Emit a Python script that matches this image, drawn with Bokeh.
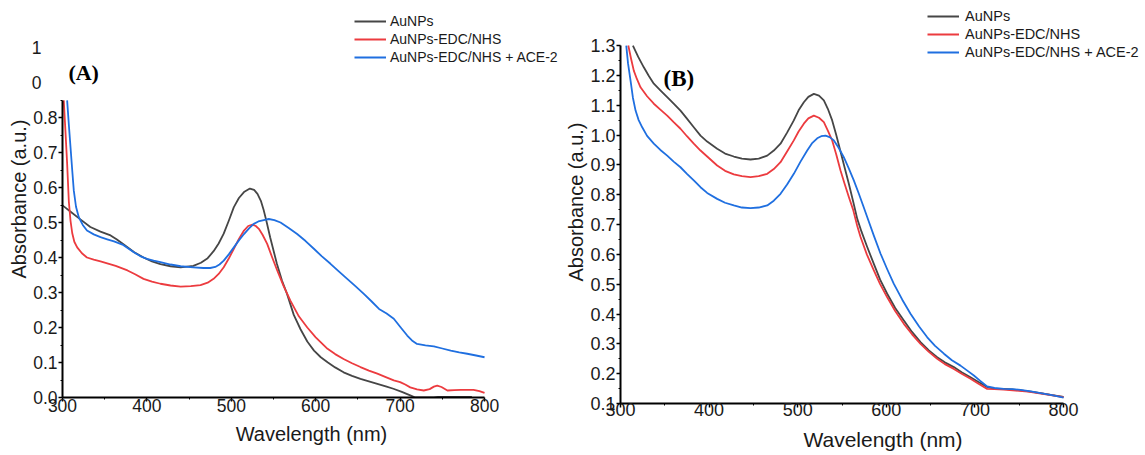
from bokeh.plotting import figure
from bokeh.models import (FixedTicker, NumeralTickFormatter, Legend, LegendItem,
                          Label, Range1d, LinearAxis)
from bokeh.layouts import row
from bokeh.embed import file_html
from bokeh.resources import INLINE

# ---------------- data ----------------
series_names = ["AuNPs", "AuNPs-EDC/NHS", "AuNPs-EDC/NHS + ACE-2"]
series_colors = ["#464646", "#ec3b3f", "#1f6fe0"]
x_ticks = [300, 400, 500, 600, 700, 800]
x_minor = [350, 450, 550, 650, 750]
a_y_ticks = [0.0, 0.1, 0.2, 0.3, 0.4, 0.5, 0.6, 0.7, 0.8]
a_y_minor = [0.05, 0.15, 0.25, 0.35, 0.45, 0.55, 0.65, 0.75, 0.85]
a_y_cut_ticks = [0.9, 1.0]          # partly hidden tick labels above panel A
a_y_cut_labels = ["0", "1"]
b_y_ticks = [0.1, 0.2, 0.3, 0.4, 0.5, 0.6, 0.7, 0.8, 0.9, 1.0, 1.1, 1.2, 1.3]
b_y_minor = [0.15, 0.25, 0.35, 0.45, 0.55, 0.65, 0.75, 0.85, 0.95, 1.05, 1.15, 1.25]

# Panel A
a_aunps_x = [300, 310, 320, 333, 345, 357, 364, 371, 385, 396, 406, 416, 428, 440, 455, 464,
             472, 479, 485, 491, 497, 503, 509, 515, 522, 527, 531, 535, 538.5, 542, 546, 550,
             554, 560, 566, 574, 582, 590, 598, 606, 614, 623, 633, 643, 653, 663, 673, 683,
             692, 702, 712, 718, 740, 745, 785]
a_aunps_y = [0.549, 0.530, 0.511, 0.487, 0.474, 0.463, 0.452, 0.440, 0.415, 0.400, 0.389,
             0.381, 0.375, 0.372, 0.376, 0.385, 0.398, 0.418, 0.440, 0.468, 0.505, 0.544, 0.570,
             0.587, 0.597, 0.593, 0.582, 0.562, 0.534, 0.500, 0.458, 0.420, 0.382, 0.334, 0.296,
             0.236, 0.195, 0.160, 0.134, 0.115, 0.101, 0.086, 0.072, 0.062, 0.053, 0.046, 0.039,
             0.032, 0.025, 0.016, 0.006, 0.000, 0.000, 0.002, 0.002]

a_edc_x = [301.5, 303.5, 305.5, 307.5, 309.5, 311.5, 314, 317.4, 323, 329, 337, 345, 355, 363,
           377, 386, 396, 406, 416, 428, 440, 452, 463.5, 472, 479, 485, 491, 497, 503, 509,
           515, 520, 525, 529, 532.6, 537, 542.5, 548, 554.4, 562, 570, 580, 590, 600, 614,
           623, 633, 643, 653, 663, 673, 683, 692.5, 700, 706, 712, 720, 728, 735, 740, 744,
           749, 756, 764, 772, 780, 787, 794, 800]
a_edc_y = [0.849, 0.760, 0.668, 0.560, 0.505, 0.470, 0.445, 0.429, 0.412, 0.400, 0.394, 0.389,
           0.382, 0.376, 0.363, 0.352, 0.339, 0.331, 0.325, 0.320, 0.317, 0.318, 0.321, 0.328,
           0.339, 0.353, 0.372, 0.397, 0.425, 0.453, 0.477, 0.490, 0.494, 0.490, 0.482, 0.465,
           0.439, 0.403, 0.363, 0.318, 0.277, 0.232, 0.200, 0.172, 0.139, 0.124, 0.110, 0.098,
           0.087, 0.077, 0.068, 0.058, 0.049, 0.044, 0.037, 0.029, 0.023, 0.020, 0.024, 0.031,
           0.034, 0.030, 0.020, 0.021, 0.022, 0.022, 0.022, 0.018, 0.013]

a_ace_x = [305.5, 307.5, 309.5, 311.5, 313.4, 316, 319.3, 324, 329, 337, 345, 353, 361, 371,
           378, 384.5, 392, 400, 408, 416, 428, 440, 455, 467, 475, 481, 486, 491, 497, 503,
           509, 515, 521, 526.6, 532, 538.5, 544.4, 551, 558.3, 568, 578, 588, 597.8, 607,
           617.5, 627, 637.3, 647, 657, 666, 675, 684, 692.5, 700, 708.4, 714, 720, 730, 740,
           750, 760, 770, 779.5, 790, 800]
a_ace_y = [0.849, 0.780, 0.715, 0.650, 0.591, 0.545, 0.515, 0.493, 0.477, 0.466, 0.458, 0.452,
           0.446, 0.437, 0.426, 0.415, 0.404, 0.396, 0.391, 0.387, 0.380, 0.375, 0.372, 0.370,
           0.370, 0.373, 0.380, 0.391, 0.409, 0.429, 0.449, 0.467, 0.483, 0.496, 0.503, 0.507,
           0.510, 0.507, 0.500, 0.484, 0.467, 0.447, 0.425, 0.404, 0.382, 0.361, 0.339, 0.318,
           0.296, 0.275, 0.253, 0.240, 0.225, 0.202, 0.177, 0.163, 0.153, 0.149, 0.146, 0.140,
           0.134, 0.129, 0.125, 0.120, 0.115]

# Panel B
b_aunps_x = [314, 320, 326.3, 332, 337.6, 345, 352.7, 360, 367.7, 375, 382.7, 390.3, 397.8,
             409.1, 418, 427.9, 437, 446.7, 456, 465.6, 473, 480.6, 488, 495.6, 501, 506.9,
             512, 518.2, 524, 529.5, 534, 538.9, 543.5, 548.3, 553, 557.7, 562.5, 567.2, 572,
             578, 585.9, 593, 601, 610, 619.8, 629, 638.6, 648, 657.4, 666, 676.2, 685, 695,
             704, 713.8, 722, 732.6, 742, 751.5, 763, 774, 787, 800]
b_aunps_y = [1.300, 1.262, 1.227, 1.198, 1.172, 1.150, 1.127, 1.105, 1.082, 1.055, 1.026,
             0.998, 0.978, 0.954, 0.938, 0.928, 0.921, 0.918, 0.921, 0.931, 0.948, 0.971,
             1.008, 1.049, 1.083, 1.110, 1.128, 1.138, 1.132, 1.116, 1.088, 1.049, 1.000, 0.945,
             0.890, 0.837, 0.778, 0.719, 0.676, 0.628, 0.568, 0.515, 0.468, 0.420, 0.378, 0.340,
             0.306, 0.278, 0.255, 0.238, 0.222, 0.205, 0.188, 0.172, 0.155, 0.150, 0.149, 0.147,
             0.144, 0.140, 0.135, 0.128, 0.122]

b_edc_x = [308.8, 312, 315, 318.5, 322.6, 330, 337.6, 345, 352.7, 360, 367.7, 375, 382.7,
           390.3, 397.8, 409.1, 418, 427.9, 437, 446.7, 456, 465.6, 473, 480.6, 488, 495.6,
           501, 506.9, 512, 518.2, 524, 529.5, 534, 538.9, 543.5, 548.3, 553, 557.7, 562.5,
           567.2, 570.9, 578, 585.9, 593, 601, 610, 619.8, 629, 638.6, 648, 657.4, 666, 676.2,
           685, 695, 704, 713.8, 722, 732.6, 746, 760, 780, 800]
b_edc_y = [1.300, 1.255, 1.216, 1.188, 1.160, 1.130, 1.105, 1.085, 1.065, 1.043, 1.021, 0.996,
           0.971, 0.948, 0.928, 0.898, 0.880, 0.868, 0.862, 0.859, 0.862, 0.870, 0.886, 0.909,
           0.945, 0.982, 1.012, 1.038, 1.056, 1.065, 1.058, 1.043, 1.015, 0.982, 0.935, 0.881,
           0.836, 0.792, 0.750, 0.695, 0.658, 0.600, 0.546, 0.500, 0.456, 0.410, 0.367, 0.332,
           0.300, 0.273, 0.250, 0.232, 0.216, 0.200, 0.183, 0.166, 0.149, 0.148, 0.147, 0.143,
           0.140, 0.131, 0.121]

b_ace_x = [306.5, 308.5, 311.3, 314, 317, 320.5, 324.5, 330, 337.6, 345, 352.7, 360, 367.7,
           375, 382.7, 390.3, 397.8, 409.1, 418, 427.9, 437, 446.7, 456, 465.6, 473, 480.6,
           488, 495.6, 503, 510.7, 516, 522, 526.5, 531.4, 536, 540.8, 546, 552, 557.5, 563.3,
           569, 574.5, 578.4, 586, 593.5, 601, 608.5, 618, 627.3, 637, 646.2, 655, 665, 674,
           683.7, 691, 698.8, 706, 713.8, 722, 732.6, 742, 751.5, 763, 774, 787, 800]
b_ace_y = [1.300, 1.240, 1.183, 1.125, 1.082, 1.050, 1.026, 0.997, 0.971, 0.950, 0.931, 0.911,
           0.892, 0.870, 0.848, 0.825, 0.806, 0.786, 0.773, 0.764, 0.757, 0.755, 0.757, 0.764,
           0.780, 0.803, 0.834, 0.870, 0.910, 0.948, 0.972, 0.989, 0.996, 0.998, 0.993, 0.982,
           0.958, 0.926, 0.889, 0.848, 0.803, 0.758, 0.725, 0.662, 0.602, 0.550, 0.501, 0.448,
           0.401, 0.358, 0.322, 0.293, 0.267, 0.245, 0.227, 0.211, 0.194, 0.176, 0.157, 0.152,
           0.149, 0.148, 0.146, 0.141, 0.135, 0.128, 0.120]

FONT = "Liberation Sans"
TXT = "#1a1a1a"


def style_axis(ax, fs):
    ax.axis_line_color = "black"
    ax.axis_line_width = 2
    ax.major_tick_line_color = "black"
    ax.major_tick_line_width = 1.5
    ax.minor_tick_line_color = "black"
    ax.minor_tick_line_width = 1
    ax.major_tick_in = 0
    ax.major_tick_out = 4
    ax.minor_tick_in = 0
    ax.minor_tick_out = 2
    ax.major_label_text_font = FONT
    ax.major_label_text_font_size = fs
    ax.major_label_text_color = TXT
    ax.axis_label_text_font = FONT
    ax.axis_label_text_font_style = "normal"
    ax.axis_label_text_color = TXT


def make_panel(width, height, left, x_end, y_range, series, legend_loc, legend_fs,
               legend_standoff):
    p = figure(width=width, height=height, x_range=Range1d(300, x_end), y_range=y_range,
               output_backend="svg", toolbar_location=None, title=None,
               min_border_left=left, min_border_right=0, min_border_top=0,
               min_border_bottom=52)
    p.outline_line_color = None
    p.xgrid.visible = False
    p.ygrid.visible = False
    p.background_fill_color = "white"
    p.border_fill_color = "white"
    rends = []
    for (xs, ys), col in zip(series, series_colors):
        rends.append(p.line(xs, ys, line_color=col, line_width=1.8, line_join="round"))
    legend = Legend(items=[LegendItem(label=n, renderers=[r]) for n, r in zip(series_names, rends)],
                    location=legend_loc, orientation="vertical", padding=0, margin=0, spacing=0,
                    glyph_width=32, glyph_height=18, label_height=18,
                    label_standoff=legend_standoff, label_text_font=FONT,
                    label_text_font_size=legend_fs, label_text_color=TXT,
                    background_fill_alpha=0, border_line_alpha=0)
    p.add_layout(legend)
    return p


# ---------------- panel A ----------------
pA = make_panel(560, 449, 62, 890.0, Range1d(0, 1.13429),
                [(a_aunps_x, a_aunps_y), (a_edc_x, a_edc_y), (a_ace_x, a_ace_y)],
                (292, 331), "14px", 4)
xa = pA.xaxis[0]
style_axis(xa, "17.5px")
xa.ticker = FixedTicker(ticks=x_ticks, minor_ticks=x_minor)
xa.formatter = NumeralTickFormatter(format="0")
xa.bounds = (300, 800)
xa.major_label_standoff = -3
xa.axis_label = "Wavelength (nm)"
xa.axis_label_text_font_size = "20px"
xa.axis_label_standoff = 8

ya = pA.yaxis[0]
style_axis(ya, "17.5px")
ya.ticker = FixedTicker(ticks=a_y_ticks, minor_ticks=a_y_minor)
ya.formatter = NumeralTickFormatter(format="0.0")
ya.bounds = (0, 0.85)
ya.major_label_standoff = 1

ya2 = LinearAxis(ticker=FixedTicker(ticks=a_y_cut_ticks, minor_ticks=[]),
                 major_label_overrides=dict(zip(a_y_cut_ticks, a_y_cut_labels)),
                 bounds=(0, 1.0))
style_axis(ya2, "17.5px")
ya2.axis_line_color = None
ya2.major_tick_line_color = None
ya2.minor_tick_line_color = None
ya2.major_tick_out = 0
ya2.minor_tick_out = 0
ya2.major_label_standoff = -11
ya2.axis_label = "Absorbance (a.u.)"
ya2.axis_label_text_font_size = "20px"
ya2.axis_label_standoff = -1
pA.add_layout(ya2, "left")

pA.add_layout(Label(x=307, y=0.929, text="(A)", text_align="left", text_baseline="middle",
                    text_font="Liberation Serif", text_font_style="bold", text_font_size="22px",
                    text_color="black"))

# ---------------- panel B ----------------
pB = make_panel(585, 455, 60, 892.5, Range1d(0.1, 1.4510),
                [(b_aunps_x, b_aunps_y), (b_edc_x, b_edc_y), (b_ace_x, b_ace_y)],
                (307, 342), "14.5px", 6)
xb = pB.xaxis[0]
style_axis(xb, "18px")
xb.ticker = FixedTicker(ticks=x_ticks, minor_ticks=x_minor)
xb.formatter = NumeralTickFormatter(format="0")
xb.bounds = (300, 800)
xb.major_label_standoff = -5
xb.axis_label = "Wavelength (nm)"
xb.axis_label_text_font_size = "21px"
xb.axis_label_standoff = 9

yb = pB.yaxis[0]
style_axis(yb, "18px")
yb.ticker = FixedTicker(ticks=b_y_ticks, minor_ticks=b_y_minor)
yb.formatter = NumeralTickFormatter(format="0.0")
yb.bounds = (0.1, 1.3)
yb.major_label_standoff = 1
yb.axis_label = "Absorbance (a.u.)"
yb.axis_label_text_font_size = "20px"
yb.axis_label_standoff = 0

pB.add_layout(Label(x=348.5, y=1.191, text="(B)", text_align="left", text_baseline="middle",
                    text_font="Liberation Serif", text_font_style="bold", text_font_size="23px",
                    text_color="black"))

layout = row(pA, pB)
open("out.html", "w").write(file_html(layout, INLINE))
